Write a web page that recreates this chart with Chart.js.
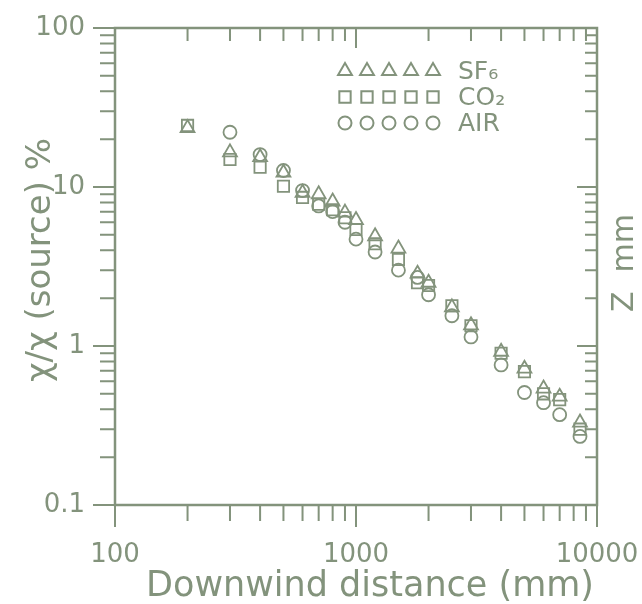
<!DOCTYPE html>
<html>
<head>
<meta charset="utf-8">
<script src="https://cdn.jsdelivr.net/npm/chart.js@4.4.1/dist/chart.umd.min.js"></script>
<style>
  html, body { margin: 0; padding: 0; background: #fff; }
  canvas { display: block; }
</style>
</head>
<body>
<canvas id="grafico" width="642" height="604"></canvas>
<script>
// distancias en mm
const distancias = [200, 300, 400, 500, 600, 700, 800, 900, 1000, 1200, 1500, 1800, 2000, 2500, 3000, 4000, 5000, 6000, 7000, 8500];
const sf6 = [23.5, 16.5, 15.4, 12.3, 9.2, 9.0, 8.1, 6.9, 6.2, 4.9, 4.1, 2.85, 2.5, 1.75, 1.35, 0.92, 0.72, 0.54, 0.48, 0.33];
const co2 = [24.4, 14.9, 13.3, 10.1, 8.6, 7.8, 7.2, 6.4, 5.4, 4.4, 3.5, 2.5, 2.4, 1.79, 1.34, 0.90, 0.69, 0.50, 0.46, 0.30];
const aire = [null, 22.1, 16.0, 12.7, 9.5, 7.6, 7.0, 6.0, 4.7, 3.9, 3.0, 2.7, 2.1, 1.55, 1.14, 0.76, 0.51, 0.44, 0.37, 0.27];
const etiquetasX = [100, 1000, 10000];
const etiquetasY = [0.1, 1, 10, 100];
const series = ["SF₆", "CO₂", "AIR"];

const color = "#83937c";
const fuente = "'DejaVu Sans', sans-serif";

function puntos(valores) {
  return distancias
    .map((d, i) => ({ x: d, y: valores[i] }))
    .filter((p) => p.y !== null);
}

// marco, marcas de los ejes, leyenda y titulos
const marco = {
  id: "marco",
  beforeDatasetsDraw(chart) {
    const ctx = chart.ctx;
    const a = chart.chartArea;
    const sx = chart.scales.x;
    const sy = chart.scales.y;
    ctx.save();
    ctx.strokeStyle = color;
    ctx.lineWidth = 2.5;
    ctx.strokeRect(a.left, a.top, a.right - a.left, a.bottom - a.top);
    ctx.lineWidth = 2;
    ctx.beginPath();
    // eje x
    for (let d = 100; d <= 10000; d *= 10) {
      for (let k = 1; k <= 9; k++) {
        const v = d * k;
        if (v > 10000) break;
        const px = sx.getPixelForValue(v);
        const mayor = k === 1;
        ctx.moveTo(px, a.bottom);
        ctx.lineTo(px, a.bottom + (mayor ? 22 : 16));
        ctx.moveTo(px, a.top);
        ctx.lineTo(px, a.top + (mayor ? 20 : 13));
      }
    }
    // eje y
    for (let d = 0.1; d <= 100; d *= 10) {
      for (let k = 1; k <= 9; k++) {
        const v = d * k;
        if (v > 100.5) break;
        const py = sy.getPixelForValue(v);
        const mayor = k === 1;
        ctx.moveTo(a.left, py);
        ctx.lineTo(a.left - (mayor ? 22 : 15), py);
        ctx.moveTo(a.right, py);
        ctx.lineTo(a.right - (mayor ? 20 : 12), py);
      }
    }
    ctx.stroke();

    // leyenda
    const estilos = ["triangle", "rect", "circle"];
    const radios = [8, 8, 6.5];
    const filas = [71, 97, 123];
    for (let i = 0; i < 3; i++) {
      ctx.fillStyle = "rgba(0,0,0,0)";
      ctx.strokeStyle = color;
      ctx.lineWidth = 2;
      for (let j = 0; j < 5; j++) {
        Chart.helpers.drawPoint(ctx, {
          pointStyle: estilos[i],
          radius: radios[i],
          rotation: 0,
          borderWidth: 2,
        }, 345 + j * 22, filas[i]);
      }
      ctx.fillStyle = color;
      ctx.font = "25px " + fuente;
      ctx.textBaseline = "middle";
      ctx.textAlign = "left";
      ctx.fillText(series[i], 458, filas[i] + 1);
    }

    // titulos
    ctx.fillStyle = color;
    ctx.font = "35px " + fuente;
    ctx.textAlign = "center";
    ctx.textBaseline = "alphabetic";
    ctx.fillText("Downwind distance (mm)", 370, 596);
    ctx.save();
    ctx.translate(50, 260);
    ctx.rotate(-Math.PI / 2);
    ctx.font = "34px " + fuente;
    ctx.fillText("χ/χ (source) %", 0, 0);
    ctx.restore();
    // texto cortado del panel vecino
    ctx.save();
    ctx.translate(633, 0);
    ctx.rotate(-Math.PI / 2);
    ctx.font = "30px " + fuente;
    ctx.textAlign = "left";
    ctx.fillText("Z", -312, 0);
    ctx.textAlign = "right";
    ctx.fillText("mm", -214, 0);
    ctx.restore();
    ctx.restore();
  },
};

const ctx = document.getElementById("grafico").getContext("2d");
new Chart(ctx, {
  type: "scatter",
  data: {
    datasets: [
      {
        label: series[0],
        data: puntos(sf6),
        pointStyle: "triangle",
        pointRadius: 8,
        borderColor: color,
        backgroundColor: "rgba(0,0,0,0)",
        pointBackgroundColor: "rgba(0,0,0,0)",
        borderWidth: 1.8,
      },
      {
        label: series[1],
        data: puntos(co2),
        pointStyle: "rect",
        pointRadius: 8,
        borderColor: color,
        backgroundColor: "rgba(0,0,0,0)",
        pointBackgroundColor: "rgba(0,0,0,0)",
        borderWidth: 1.8,
      },
      {
        label: series[2],
        data: puntos(aire),
        pointStyle: "circle",
        pointRadius: 6.5,
        borderColor: color,
        backgroundColor: "rgba(0,0,0,0)",
        pointBackgroundColor: "rgba(0,0,0,0)",
        borderWidth: 1.8,
      },
    ],
  },
  options: {
    responsive: false,
    animation: false,
    devicePixelRatio: 1,
    layout: { padding: { top: 28, right: 45, left: 0, bottom: 0 } },
    plugins: { legend: { display: false }, tooltip: { enabled: false } },
    scales: {
      x: {
        type: "logarithmic",
        min: 100,
        max: 10000,
        grid: { display: false },
        border: { display: false },
        afterFit: (s) => {
          s.height = 99;
          s.paddingLeft = 0;
          s.paddingRight = 0;
        },
        ticks: {
          autoSkip: false,
          maxRotation: 0,
          padding: 27,
          color: color,
          font: { family: fuente, size: 26 },
          callback: (v) => (etiquetasX.includes(v) ? String(v) : ""),
        },
      },
      y: {
        type: "logarithmic",
        min: 0.1,
        max: 100,
        grid: { display: false },
        border: { display: false },
        afterFit: (s) => {
          s.width = 115;
          s.paddingTop = 0;
          s.paddingBottom = 0;
        },
        ticks: {
          autoSkip: false,
          padding: 22,
          color: color,
          font: { family: fuente, size: 26 },
          callback: (v) => (etiquetasY.some((e) => Math.abs(e - v) < 1e-9) ? String(v) : ""),
        },
      },
    },
  },
  plugins: [marco],
});
</script>
</body>
</html>
